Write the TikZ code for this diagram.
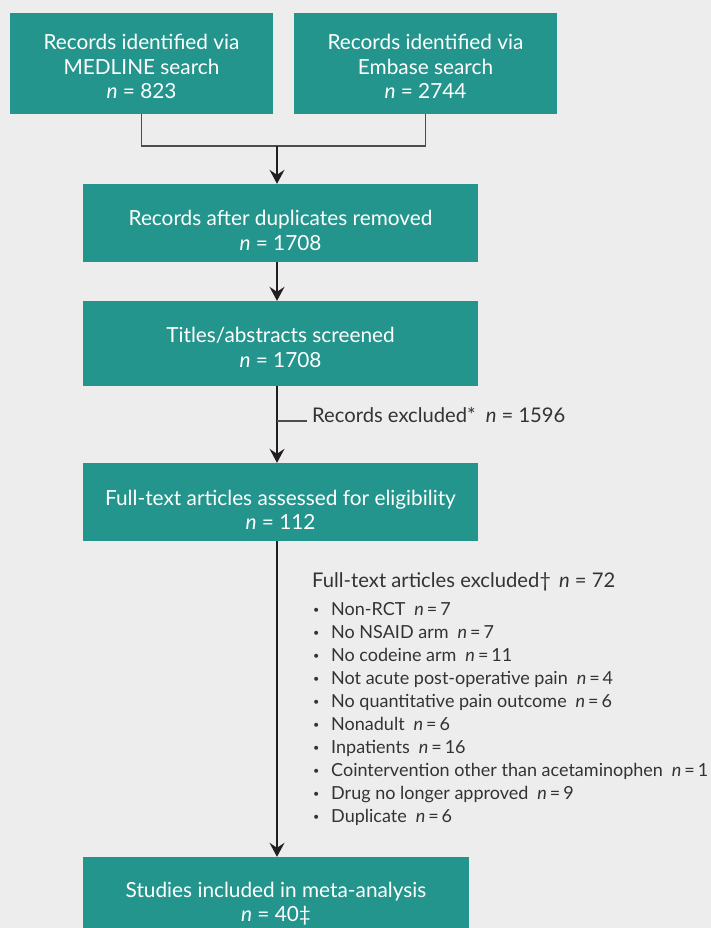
\documentclass[tikz,border=0pt]{standalone}
\usepackage{fontspec}
\setmainfont{Lato}
\usetikzlibrary{arrows.meta}

\definecolor{stagefill}{HTML}{24958D}
\definecolor{pagegrey}{HTML}{EDEDED}
\definecolor{linegrey}{HTML}{4D4D4D}
\definecolor{arrowink}{HTML}{231F20}
\definecolor{inkgrey}{HTML}{333333}

\newcommand{\stagefont}{\fontsize{20.8bp}{24.8bp}\selectfont}
\newcommand{\notefont}{\fontsize{20.2bp}{24.8bp}\selectfont}
\newcommand{\listfont}{\fontsize{18bp}{23bp}\selectfont}
\newcommand{\toplift}[1]{\rule{0pt}{#1bp}}
\newcommand{\exclitem}[2]{\makebox[18bp][l]{\raisebox{1.5bp}{\scalebox{0.6}{•}}}#1\hspace{0.5em}\textit{n}\thinspace=\thinspace#2}

\begin{document}
\begin{tikzpicture}[x = 1bp, y = -1bp, > = {Stealth[length = 14bp, width = 15bp, inset = 5bp]},
	stage/.style = {fill = stagefill, text = white, align = center, inner sep = 0pt, font = \stagefont},
	link/.style = {draw = linegrey, line width = 1.3bp},
	flow/.style = {draw = arrowink, line width = 1.3bp, ->},
	note/.style = {text = inkgrey, inner sep = 0pt}]

% Page

\fill [pagegrey] (0, 0) rectangle (711, 928);
\useasboundingbox (0, 0) rectangle (711, 928);
\clip (0, 0) rectangle (711, 928);

% Searches

\node [stage, minimum width = 263bp, minimum height = 101bp] (medline) at (141.5, 63.5)
	{\toplift{21.2}Records identified via\\ MEDLINE search\\ \textit{n} = 823};
\node [stage, minimum width = 263bp, minimum height = 101bp] (embase) at (425.5, 63.5)
	{\toplift{21.2}Records identified via\\ Embase search\\ \textit{n} = 2744};

% Screening stages

\node [stage, minimum width = 395bp, minimum height = 78bp] (dedup) at (280.5, 223)
	{\toplift{30.8}Records after duplicates removed\\ \textit{n} = 1708};
\node [stage, minimum width = 395bp, minimum height = 85bp] (screen) at (280.5, 343.5)
	{\toplift{23.8}Titles/abstracts screened\\ \textit{n} = 1708};
\node [stage, minimum width = 395bp, minimum height = 78bp] (fulltext) at (280.5, 502)
	{\toplift{30.8}Full-text articles assessed for eligibility\\ \textit{n} = 112};
\node [stage, minimum width = 386bp, minimum height = 78bp] (included) at (276, 896)
	{\toplift{30.8}Studies included in meta-analysis\\ \textit{n} = 40‡};

% Exclusions

\node [note, anchor = base west, inner xsep = 5bp, font = \notefont] (recexcl) at (307, 422)
	{Records excluded*\hspace{0.5em}\textit{n} = 1596};
\node [note, anchor = base west, font = \notefont] (exclhead) at (312, 587)
	{Full-text articles excluded†\hspace{0.4em}\textit{n} = 72};
\node [note, anchor = north west, align = left, font = \listfont] (excllist) at (313, 600)
	{\toplift{15}\exclitem{Non-RCT}{7}\\
	\exclitem{No NSAID arm}{7}\\
	\exclitem{No codeine arm}{11}\\
	\exclitem{Not acute post-operative pain}{4}\\
	\exclitem{No quantitative pain outcome}{6}\\
	\exclitem{Nonadult}{6}\\
	\exclitem{Inpatients}{16}\\
	\exclitem{Cointervention other than acetaminophen}{1}\\
	\exclitem{Drug no longer approved}{9}\\
	\exclitem{Duplicate}{6}};

% Connectors

\coordinate (merge) at (277, 146);
\coordinate (split) at (277, 421);

\draw [link] (medline.south) |- (merge) -| (embase.south);
\draw [flow] (merge) -- (merge |- dedup.north);
\draw [flow] (merge |- dedup.south) -- (merge |- screen.north);
\draw [flow] (merge |- screen.south) -- (merge |- fulltext.north);
\draw [link] (split) -- (split -| recexcl.west);
\draw [flow] (merge |- fulltext.south) -- (merge |- included.north);

\end{tikzpicture}
\end{document}
